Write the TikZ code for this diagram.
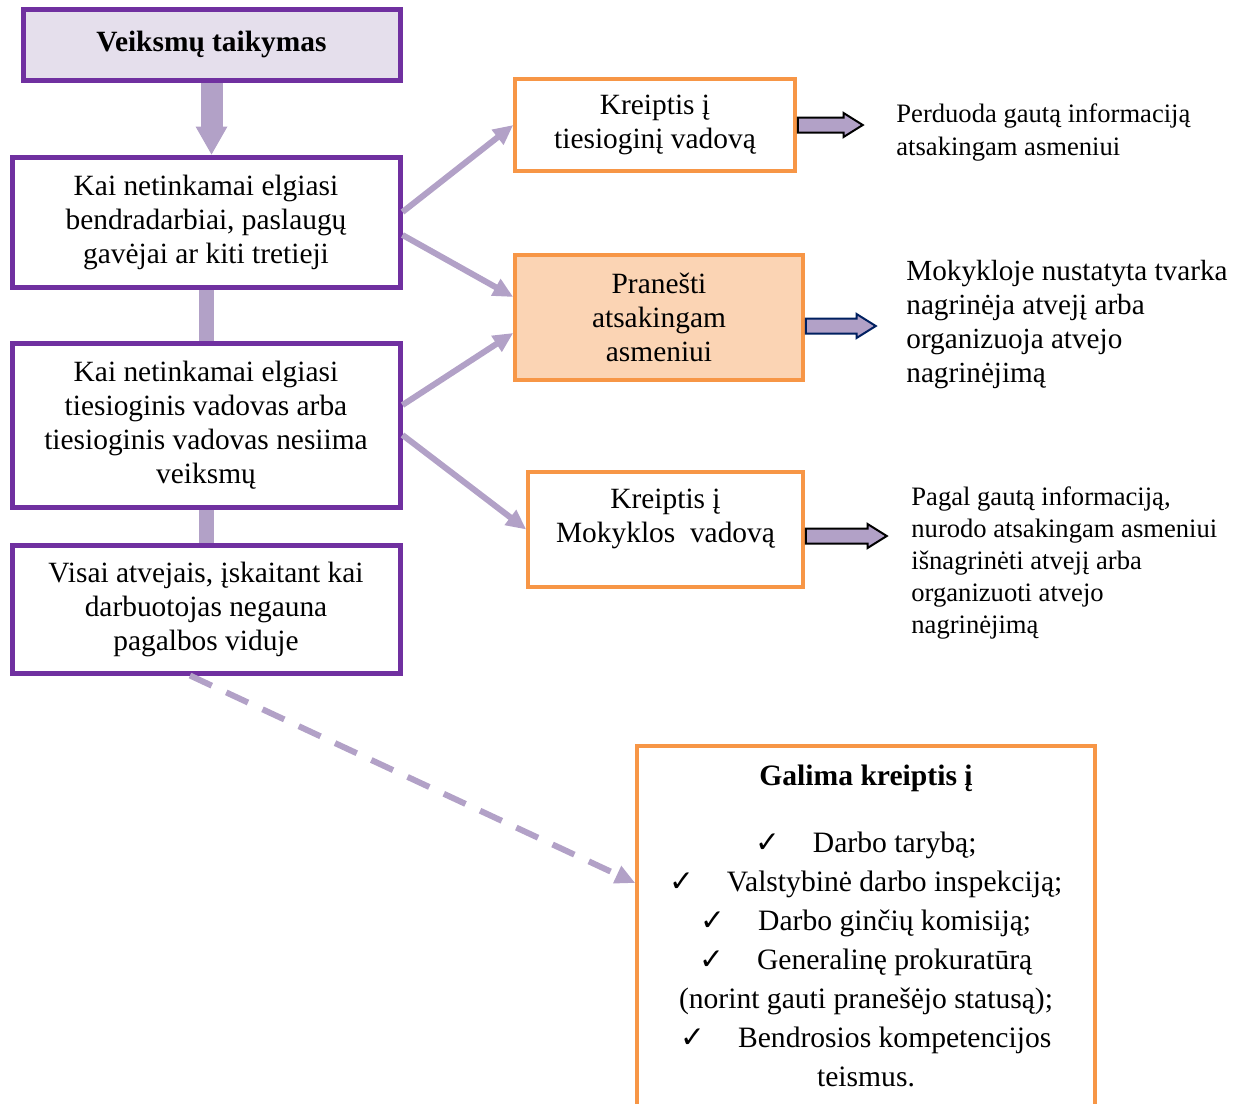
\documentclass[tikz,border=0pt]{standalone}
\usepackage{fontspec}
\setmainfont{Liberation Serif}
\newfontfamily\symbfont{DejaVu Sans}
\usepackage{xcolor}
\usepackage{tikz}
\usetikzlibrary{arrows.meta, positioning, shapes.arrows, calc, backgrounds}
\definecolor{purplebox}{RGB}{112,48,160}
\definecolor{lilacfill}{RGB}{229,223,236}
\definecolor{lilac}{RGB}{178,161,199}
\definecolor{orangebox}{RGB}{247,150,70}
\definecolor{peachfill}{RGB}{251,212,180}
\definecolor{navyline}{RGB}{0,32,96}
\newcommand{\chk}{{\symbfont ✓}\hspace{1.1em}}

\begin{document}
\begin{tikzpicture}[x=0.5pt, y=-0.5pt, >=Stealth,
    casebox/.style={draw=purplebox, line width=2.5pt, fill=white, minimum width=194pt,
                    align=center, inner sep=2pt, font=\fontsize{14.7}{17}\selectfont},
    stepbox/.style={draw=orangebox, line width=1.75pt, fill=white, align=center,
                    font=\fontsize{14.7}{17}\selectfont},
    note/.style={anchor=west, align=left, inner sep=0pt},
    link/.style={draw=lilac, line width=3pt, -{Triangle[length=10pt,width=9pt]}},
    blockarrow/.style={single arrow, draw=black, fill=lilac, line width=1pt,
                       text height=3.25pt, text depth=3.25pt, minimum width=0pt,
                       single arrow head extend=2.25pt, single arrow tip angle=64,
                       inner sep=0pt, anchor=tail}]
    \clip (0,0) rectangle (1242,1103);
    % left column
    \node[casebox, fill=lilacfill, minimum width=188.5pt, minimum height=35.5pt,
          font=\bfseries\fontsize{14.7}{17}\selectfont] (start) at (211.5,44.5) {Veiksmų taikymas};
    \node[casebox, minimum height=65pt] (peers) at (206,222)
          {Kai netinkamai elgiasi\\ bendradarbiai, paslaugų\\ gavėjai ar kiti tretieji};
    \node[casebox, minimum height=82pt] (boss) at (206,425)
          {Kai netinkamai elgiasi\\ tiesioginis vadovas arba\\ tiesioginis vadovas nesiima\\ veiksmų};
    \node[casebox, minimum height=64pt] (any) at (206,609)
          {Visai atvejais, įskaitant kai\\ darbuotojas negauna\\ pagalbos viduje};
    % middle column
    \node[stepbox, minimum width=140pt, minimum height=46pt] (direct) at (655,125)
          {Kreiptis į\\ tiesioginį vadovą};
    \node[stepbox, fill=peachfill, minimum width=144pt, minimum height=62.5pt] (report) at (659,317.5)
          {Pranešti\\ atsakingam\\ asmeniui};
    \node[stepbox, minimum width=137.5pt, minimum height=57.5pt, text depth=14pt] (head) at (665.5,529.5)
          {Kreiptis į\\ Mokyklos\ \ vadovą};
    % outcomes
    \node[blockarrow, minimum height=32.5pt] (passarrow) at (direct.east) {};
    \node[blockarrow, draw=navyline, minimum height=35pt] (rulesarrow) at ([yshift=-4.25pt]report.east) {};
    \node[blockarrow, minimum height=40.5pt] (orderarrow) at ([yshift=-3.25pt]head.east) {};
    \node[note, font=\fontsize{13.3}{16.5}\selectfont] (pass) at (896,133)
          {Perduoda gautą informaciją\\ atsakingam asmeniui};
    \node[note, font=\fontsize{14.6}{17}\selectfont] (rules) at (906,324.5)
          {Mokykloje nustatyta tvarka\\ nagrinėja atvejį arba\\ organizuoja atvejo\\ nagrinėjimą};
    \node[note, font=\fontsize{13.3}{16}\selectfont] (order) at (911,563)
          {Pagal gautą informaciją,\\ nurodo atsakingam asmeniui\\ išnagrinėti atvejį arba\\
           organizuoti atvejo\\ nagrinėjimą};
    % outside help
    \node[stepbox, anchor=north, minimum width=229pt, inner sep=0pt] (more) at (866,744)
          {\parbox[t][200pt][t]{225pt}{\centering\fontsize{14.8}{19.5}\selectfont
           \rule{0pt}{20pt}\textbf{Galima kreiptis į}\\[14pt]
           \chk Darbo tarybą;\\
           \chk Valstybinė darbo inspekciją;\\
           \chk Darbo ginčių komisiją;\\
           \chk Generalinę prokuratūrą\\
           (norint gauti pranešėjo statusą);\\
           \chk Bendrosios kompetencijos\\
           teismus.}};
    % connectors
    \begin{scope}[on background layer]
    \draw[lilac, line width=11pt, -{Triangle[length=14pt,width=16pt,line width=0pt]}]
          (start.south) -- (start.south |- peers.north);
    \draw[lilac, line width=7.5pt] (peers.south) -- (boss.north);
    \draw[lilac, line width=7.5pt] (boss.south) -- (any.north);
    \end{scope}
    \draw[link] ([yshift=5pt]peers.east) -- (direct.west);
    \draw[link] ([yshift=-6.5pt]peers.east) -- ([yshift=10.25pt]report.west);
    \draw[link] ([yshift=10pt]boss.east) -- ([yshift=-7.75pt]report.west);
    \draw[link] ([yshift=-5pt]boss.east) -- (head.west);
    \draw[link, dash pattern=on 12pt off 8pt] ([xshift=-8pt]any.south) -- ([yshift=-69.5pt]more.north west);
\end{tikzpicture}
\end{document}
